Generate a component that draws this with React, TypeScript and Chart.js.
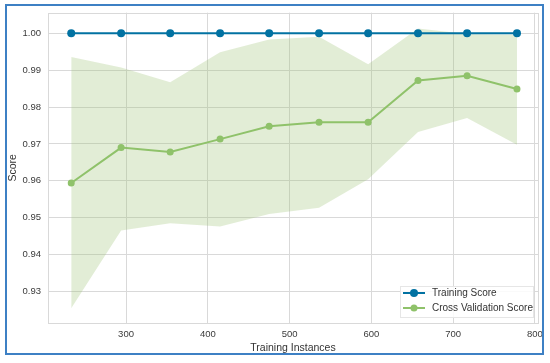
import React, { useEffect, useRef } from 'react';
import { Chart, registerables } from 'chart.js';

Chart.register(...registerables);

const trainSizes = [233, 294, 354, 415, 475, 536, 596, 657, 717, 778];
const trainScore = [1.0, 1.0, 1.0, 1.0, 1.0, 1.0, 1.0, 1.0, 1.0, 1.0];
const cvScore = [0.9594, 0.969, 0.9678, 0.9713, 0.9748, 0.9759, 0.9759, 0.9872, 0.9885, 0.9849];
const cvUpper = [0.9936, 0.9907, 0.9867, 0.9949, 0.9983, 0.9991, 0.9916, 1.0013, 0.9998, 0.9996];
const cvLower = [0.9254, 0.9465, 0.9485, 0.9476, 0.951, 0.9527, 0.9604, 0.9732, 0.977, 0.9698];
const yTicks = [0.93, 0.94, 0.95, 0.96, 0.97, 0.98, 0.99, 1.0];
const xTicks = [300, 400, 500, 600, 700, 800];

const BLUE = '#0272a2';
const GREEN = '#8fc26a';
const BAND = 'rgba(159,195,119,0.3)';
const GRID = '#d9d9d9';
const FONT = "'Liberation Sans', Arial, sans-serif";

const decorPlugin = {
  id: 'decor',
  beforeDraw(chart: any) {
    const ctx = chart.ctx;
    ctx.save();
    ctx.fillStyle = '#ffffff';
    ctx.fillRect(0, 0, chart.width, chart.height);
    ctx.restore();
  },
  afterDraw(chart: any) {
    const ctx = chart.ctx;
    const a = chart.chartArea;
    ctx.save();
    // plot frame
    ctx.strokeStyle = GRID;
    ctx.lineWidth = 1;
    ctx.strokeRect(Math.round(a.left) + 0.5, Math.round(a.top) + 0.5, Math.round(a.right - a.left), Math.round(a.bottom - a.top));
    // outer blue border
    ctx.strokeStyle = '#3d80c4';
    ctx.lineWidth = 2;
    ctx.strokeRect(6, 5, 537, 349);
    // legend
    const lx = 400, ly = 286, lw = 133, lh = 31;
    ctx.fillStyle = 'rgba(255,255,255,0.85)';
    ctx.fillRect(lx, ly, lw, lh);
    ctx.strokeStyle = '#e6e6e6';
    ctx.lineWidth = 1;
    ctx.strokeRect(lx + 0.5, ly + 0.5, lw, lh);
    const items = chart.data.datasets.filter((d: any) => d.showInLegend);
    items.forEach((d: any, i: number) => {
      const y = 293 + i * 15;
      ctx.strokeStyle = d.borderColor;
      ctx.lineWidth = 2;
      ctx.beginPath();
      ctx.moveTo(403, y);
      ctx.lineTo(425, y);
      ctx.stroke();
      ctx.fillStyle = d.borderColor;
      ctx.beginPath();
      ctx.arc(414, y, d.pointRadius, 0, Math.PI * 2);
      ctx.fill();
      ctx.fillStyle = '#333333';
      ctx.font = `10px ${FONT}`;
      ctx.textBaseline = 'middle';
      ctx.textAlign = 'left';
      ctx.fillText(d.label, 432, y);
    });
    ctx.restore();
  },
};

export default function App() {
  const ref = useRef<HTMLCanvasElement | null>(null);

  useEffect(() => {
    document.body.style.margin = '0';
    const canvas = ref.current;
    if (!canvas) return;
    const pts = (ys: number[]) => trainSizes.map((x, i) => ({ x, y: ys[i] }));
    const chart = new Chart(canvas, {
      type: 'line',
      data: {
        datasets: [
          {
            label: 'Training Score',
            data: pts(trainScore),
            borderColor: BLUE,
            backgroundColor: BLUE,
            pointBackgroundColor: BLUE,
            pointBorderColor: BLUE,
            borderWidth: 2,
            pointRadius: 4,
            pointBorderWidth: 0,
            fill: false,
            showInLegend: true,
          } as any,
          {
            label: 'Cross Validation Score',
            data: pts(cvScore),
            borderColor: GREEN,
            backgroundColor: GREEN,
            pointBackgroundColor: GREEN,
            pointBorderColor: GREEN,
            borderWidth: 2,
            pointRadius: 3.5,
            pointBorderWidth: 0,
            fill: false,
            showInLegend: true,
          } as any,
          {
            label: 'cv upper',
            data: pts(cvUpper),
            borderWidth: 0,
            borderColor: 'rgba(0,0,0,0)',
            backgroundColor: BAND,
            pointRadius: 0,
            fill: '+1',
          },
          {
            label: 'cv lower',
            data: pts(cvLower),
            borderWidth: 0,
            borderColor: 'rgba(0,0,0,0)',
            backgroundColor: BAND,
            pointRadius: 0,
            fill: false,
          },
        ],
      },
      options: {
        responsive: false,
        animation: false,
        layout: { padding: { left: 7, top: 8, right: 12, bottom: 6 } },
        plugins: {
          legend: { display: false },
          tooltip: { enabled: false },
          filler: { drawTime: 'beforeDatasetsDraw' },
        },
        elements: { line: { tension: 0 } },
        scales: {
          x: {
            type: 'linear',
            min: 204.6,
            max: 803.7,
            afterBuildTicks: (s: any) => {
              s.ticks = xTicks.map((v) => ({ value: v }));
            },
            afterFit: (s: any) => {
              s.height = 34;
            },
            grid: { color: GRID, drawTicks: false },
            border: { display: false },
            ticks: {
              color: '#3a3a3a',
              font: { family: FONT, size: 9.5 },
              padding: 6,
              maxRotation: 0,
              callback: (v: any) => String(v),
            },
            title: {
              display: true,
              text: 'Training Instances',
              color: '#333333',
              font: { family: FONT, size: 10.5 },
              padding: { top: 0, bottom: 3 },
            },
          },
          y: {
            type: 'linear',
            min: 0.9214,
            max: 1.0056,
            afterBuildTicks: (s: any) => {
              s.ticks = yTicks.map((v) => ({ value: v }));
            },
            afterFit: (s: any) => {
              s.width = 41;
            },
            grid: { color: GRID, drawTicks: false },
            border: { display: false },
            ticks: {
              color: '#3a3a3a',
              font: { family: FONT, size: 9.5 },
              padding: 7,
              callback: (v: any) => Number(v).toFixed(2),
            },
            title: {
              display: true,
              text: 'Score',
              color: '#333333',
              font: { family: FONT, size: 10.5 },
              padding: 0,
            },
          },
        },
      },
      plugins: [decorPlugin],
    } as any);
    return () => chart.destroy();
  }, []);

  return (
    <div style={{ position: 'absolute', left: 0, top: 0, width: 550, height: 363 }}>
      <canvas ref={ref} width={550} height={363} style={{ width: 550, height: 363, display: 'block' }} />
    </div>
  );
}
